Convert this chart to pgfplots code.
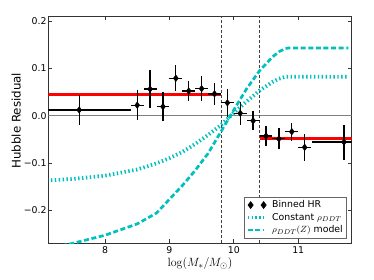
\documentclass[border=0pt]{standalone}
\usepackage[no-math]{fontspec}
\setmainfont{DejaVu Sans}
\usepackage{pgfplots}
\pgfplotsset{compat=1.18}
\usepackage{pgfplotstable}
\definecolor{cyanc}{rgb}{0,0.75,0.75}
\definecolor{framec}{rgb}{0.2,0.2,0.2}

\pgfplotstableread{
x y ex ey
7.60 0.012 0.80 0.031
8.50 0.022 0.10 0.032
8.70 0.056 0.10 0.040
8.90 0.019 0.10 0.031
9.10 0.079 0.10 0.027
9.30 0.052 0.10 0.022
9.50 0.057 0.10 0.026
9.70 0.046 0.10 0.024
9.90 0.027 0.10 0.029
10.10 0.005 0.10 0.024
10.30 -0.011 0.10 0.020
10.50 -0.043 0.10 0.022
10.70 -0.049 0.10 0.022
10.90 -0.034 0.10 0.019
11.10 -0.067 0.10 0.028
11.71 -0.056 0.50 0.037
}\binned

\pgfplotstableread{
x y
7.10 -0.137
7.50 -0.134
8.00 -0.127
8.50 -0.114
8.80 -0.101
9.00 -0.090
9.20 -0.077
9.40 -0.060
9.60 -0.041
9.80 -0.020
10.00 0.006
10.20 0.030
10.40 0.053
10.60 0.071
10.70 0.078
10.80 0.082
11.78 0.082
}\constrho

\pgfplotstableread{
x y
7.10 -0.282
7.50 -0.270
8.00 -0.253
8.50 -0.229
8.80 -0.206
9.00 -0.177
9.20 -0.148
9.40 -0.116
9.60 -0.080
9.80 -0.034
10.00 0.012
10.20 0.057
10.40 0.095
10.60 0.124
10.70 0.135
10.80 0.142
10.85 0.143
11.78 0.143
}\zrho

\begin{document}
\begin{tikzpicture}
\path (-48.3bp,-36.7bp) rectangle (325.7bp,243.3bp);
\begin{axis}[
  at={(0,0)}, anchor=south west,
  width=303.4bp, height=227bp, scale only axis,
  xmin=7.12, xmax=11.83, ymin=-0.27, ymax=0.21,
  xtick={8,9,10,11}, xticklabels={8,9,10,11},
  ytick={-0.2,-0.1,0,0.1,0.2}, yticklabels={−0.2,−0.1,0.0,0.1,0.2},
  tick align=inside, tick pos=both,
  major tick length=4bp, minor tick num=0,
  axis line style={framec, line width=0.9bp},
  every tick/.style={framec, line width=0.8bp},
  tick label style={font=\fontsize{9.4}{11}\selectfont, text=black},
  yticklabel style={inner sep=1.5bp},
  xticklabel style={inner sep=3bp},
  ylabel={Hubble Residual},
  ylabel style={at={(axis description cs:-0.0916,0.54)}, anchor=base, rotate=0, font=\fontsize{11.9}{14}\selectfont},
  xlabel={$\log(M_*/M_\odot)$},
  xlabel style={at={(axis description cs:0.5,-0.102)}, anchor=base, font=\fontsize{12.4}{14}\selectfont},
  legend style={at={(rel axis cs:1,0)}, anchor=south east, xshift=-5bp, yshift=5bp,
    draw=black!60, line width=0.8bp, font=\fontsize{9.4}{11}\selectfont,
    inner sep=1.5bp, row sep=0pt, fill=white,
    /tikz/every odd column/.append style={column sep=4bp}},
  legend cell align=left,
]
\addplot[black!50, line width=1.2bp, forget plot] coordinates {(7.0,0) (12.0,0)};
\addplot[black!75, line width=0.8bp, dash pattern=on 3bp off 2bp, forget plot] coordinates {(9.8,-0.27) (9.8,0.21)};
\addplot[black!75, line width=0.8bp, dash pattern=on 3bp off 2bp, forget plot] coordinates {(10.4,-0.27) (10.4,0.21)};
\addplot[red, line width=3bp, forget plot] coordinates {(7.0,0.0455) (9.8,0.0455)};
\addplot[red, line width=3bp, forget plot] coordinates {(10.4,-0.048) (12.0,-0.048)};
\addplot[cyanc, line width=3.8bp, dash pattern=on 1.4bp off 2.5bp, forget plot] table[x=x,y=y] {\constrho};
\addplot[cyanc, line width=2.7bp, dash pattern=on 5bp off 2.6bp, forget plot] table[x=x,y=y] {\zrho};
\addplot[black, only marks, mark=diamond*, mark size=3.3bp, forget plot,
  error bars/.cd, x dir=both, x explicit, y dir=both, y explicit,
  error mark=none, error bar style={line width=1.3bp, black}]
  table[x=x, y=y, x error=ex, y error=ey] {\binned};
\addlegendimage{legend image code/.code={\path[black, fill=black] plot[only marks, mark=diamond*, mark size=3.3bp] coordinates {(3bp,0bp) (16bp,0bp)};}}
\addlegendentry{Binned HR}
\addlegendimage{legend image code/.code={\draw[cyanc, line width=3.8bp, dash pattern=on 1.4bp off 2.5bp] (0bp,0bp) -- (16bp,0bp);}}
\addlegendentry{Constant $\rho_{DDT}$}
\addlegendimage{legend image code/.code={\draw[cyanc, line width=2.7bp, dash pattern=on 5bp off 2.6bp] (0bp,0bp) -- (16bp,0bp);}}
\addlegendentry{$\rho_{DDT}(Z)$ model}
\end{axis}
\end{tikzpicture}
\end{document}
